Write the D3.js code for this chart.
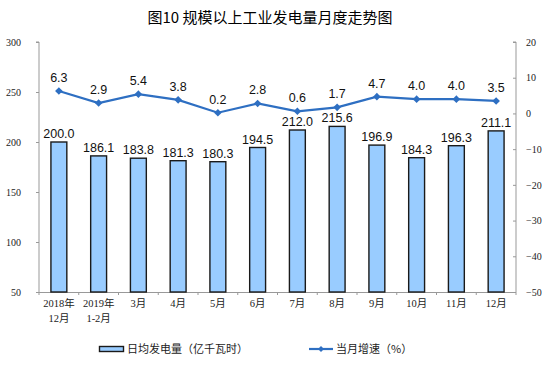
<!DOCTYPE html>
<html><head><meta charset="utf-8">
<script src="https://cdn.jsdelivr.net/npm/d3@7"></script>
<style>body{margin:0;background:#fff}svg{display:block}</style>
</head><body>
<svg id="c" width="554" height="381"></svg>
<script>
const categories = [["2018年","12月"],["2019年","1-2月"],["3月"],["4月"],["5月"],["6月"],["7月"],["8月"],["9月"],["10月"],["11月"],["12月"]];
const dailyOutput = [200.0,186.1,183.8,181.3,180.3,194.5,212.0,215.6,196.9,184.3,196.3,211.1];
const growthRate = [6.3,2.9,5.4,3.8,0.2,2.8,0.6,1.7,4.7,4.0,4.0,3.5];
const leftTicks = [50,100,150,200,250,300];
const rightTicks = [-50,-40,-30,-20,-10,0,10,20];
const title = "图10\u00a0规模以上工业发电量月度走势图";
const legendBar = "日均发电量（亿千瓦时）";
const legendLine = "当月增速（%）";

const svg = d3.select("#c");
const L = 39, R = 516, T = 42, B = 292;
const serif = "'Liberation Serif','Noto Sans CJK SC',serif";
const sans = "'Liberation Sans',Arial,'Noto Sans CJK SC',sans-serif";
const cjk = "'Noto Sans CJK SC',sans-serif";
const axisCol = "#999";

const x = d3.scaleBand().domain(d3.range(categories.length)).range([L, R]).paddingInner(0.6).paddingOuter(0.3);
const yL = d3.scaleLinear().domain([50,300]).range([B, T]);
const yR = d3.scaleLinear().domain([-50,20]).range([B, T]);

svg.append("text").attr("x", 270).attr("y", 23).attr("text-anchor","middle")
  .attr("font-family", cjk).attr("font-size", 15).attr("font-weight","normal").attr("fill","#000").text(title);

// left axis
const gl = svg.append("g").attr("transform",`translate(${L},0)`)
  .call(d3.axisLeft(yL).tickValues(leftTicks).tickSize(3).tickPadding(10));
gl.select(".domain").attr("stroke", axisCol).attr("d", `M-3,${T}H0V${B}`);
gl.selectAll(".tick line").attr("stroke", axisCol);
gl.selectAll(".tick text").attr("font-family", serif).attr("font-size", 10).attr("fill","#222").attr("x",-18).attr("text-anchor","end");

// right axis
const gr = svg.append("g").attr("transform",`translate(${R},0)`)
  .call(d3.axisRight(yR).tickValues(rightTicks).tickSize(-3).tickPadding(10));
gr.select(".domain").attr("stroke", axisCol).attr("d", `M-3,${T}H0V${B}`);
gr.selectAll(".tick line").attr("stroke", axisCol);
gr.selectAll(".tick text").attr("font-family", serif).attr("font-size", 10).attr("fill","#222").attr("x",10);

// bottom axis
svg.append("line").attr("x1",L).attr("x2",R).attr("y1",B+0.5).attr("y2",B+0.5).attr("stroke",axisCol);
d3.range(categories.length+1).forEach(i=>{
  const xx = L + i*(R-L)/categories.length;
  svg.append("line").attr("x1",xx).attr("x2",xx).attr("y1",B).attr("y2",B+3).attr("stroke",axisCol);
});
const xl = svg.append("g");
categories.forEach((c,i)=>{
  const t = xl.append("text").attr("x", x(i)+x.bandwidth()/2).attr("y", B+15).attr("text-anchor","middle")
    .attr("font-family", serif).attr("font-size", 10.5).attr("fill","#222");
  c.forEach((s,j)=>t.append("tspan").attr("x", x(i)+x.bandwidth()/2).attr("dy", j?15:0).text(s));
});

// bars
svg.append("g").selectAll("rect").data(dailyOutput).join("rect")
  .attr("x",(d,i)=>x(i)).attr("width",x.bandwidth())
  .attr("y",d=>yL(d)).attr("height",d=>yL(50)-yL(d))
  .attr("fill","#99ccff").attr("stroke","#1a1a1a").attr("stroke-width",1.4);
svg.append("g").selectAll("text").data(dailyOutput).join("text")
  .attr("x",(d,i)=>x(i)+x.bandwidth()/2).attr("y",d=>yL(d)-4).attr("text-anchor","middle")
  .attr("font-family",sans).attr("font-size",12.5).attr("fill","#111").text(d=>d.toFixed(1));

// line
const lineCol = "#2e6fc2";
const cx = i => x(i)+x.bandwidth()/2;
svg.append("path").datum(growthRate)
  .attr("d", d3.line().x((d,i)=>cx(i)).y(d=>yR(d)))
  .attr("fill","none").attr("stroke",lineCol).attr("stroke-width",2.2);
svg.append("g").selectAll("path").data(growthRate).join("path")
  .attr("transform",(d,i)=>`translate(${cx(i)},${yR(d)})`)
  .attr("d","M0,-3.8L3.8,0L0,3.8L-3.8,0Z").attr("fill",lineCol);
svg.append("g").selectAll("text").data(growthRate).join("text")
  .attr("x",(d,i)=>cx(i)).attr("y",d=>yR(d)-9).attr("text-anchor","middle")
  .attr("font-family",sans).attr("font-size",12.5).attr("fill","#111").text(d=>d.toFixed(1));

// legend
svg.append("rect").attr("x",99.5).attr("y",346.5).attr("width",24).attr("height",5)
  .attr("fill","#99ccff").attr("stroke","#1a1a1a").attr("stroke-width",1.4);
svg.append("text").attr("x",127).attr("y",353).attr("font-family",cjk).attr("font-size",11).attr("fill","#222").text(legendBar);
svg.append("line").attr("x1",309).attr("x2",333).attr("y1",349).attr("y2",349).attr("stroke",lineCol).attr("stroke-width",2.2);
svg.append("path").attr("transform","translate(321,349)").attr("d","M0,-3L3,0L0,3L-3,0Z").attr("fill",lineCol);
svg.append("text").attr("x",336).attr("y",353).attr("font-family",cjk).attr("font-size",11).attr("fill","#222").text(legendLine);
</script>
</body></html>
